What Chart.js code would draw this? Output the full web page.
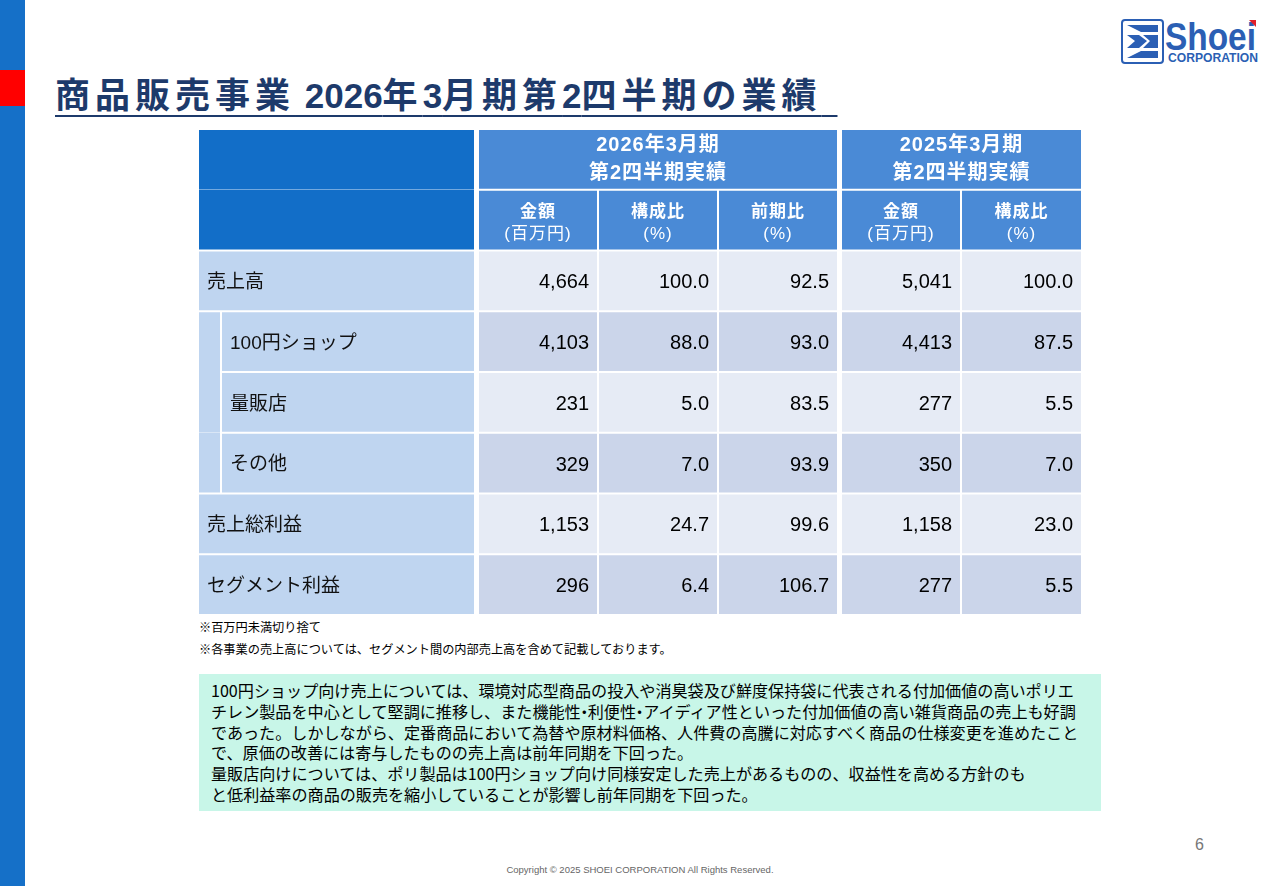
<!DOCTYPE html>
<html lang="ja">
<head>
<meta charset="utf-8">
<title>商品販売事業 2026年3月期第2四半期の業績</title>
<script src="https://cdn.jsdelivr.net/npm/chart.js@4.4.1/dist/chart.umd.min.js"></script>
<style>
  html, body { margin: 0; padding: 0; background: #fff; }
  body {
    width: 1280px; height: 886px; position: relative; overflow: hidden;
    font-family: "Noto Sans CJK JP", "Liberation Sans", sans-serif; color: #000;
  }
  .side-bar { position: absolute; left: 0; top: 0; width: 25px; height: 886px; background: #1570c8; }
  .side-mark { position: absolute; left: 0; top: 70px; width: 25px; height: 36px; background: #ff0000; }
  .logo { position: absolute; left: 1110px; top: 10px; }
  .title {
    position: absolute; left: 55px; top: 75px; white-space: nowrap;
    font-size: 35px; line-height: 35px; font-weight: bold; color: #1d3a6b;
    text-decoration: underline; text-decoration-thickness: 2px; text-underline-offset: 7px;
  }
  .title .j { letter-spacing: 5px; }
  .title .n { font-family: "Liberation Sans", sans-serif; letter-spacing: 0; }
  #table-wrap { position: absolute; left: 198px; top: 129px; width: 884px; height: 486px; }
  .note { position: absolute; left: 199px; font-size: 12.2px; line-height: 14px; white-space: nowrap; }
  .comment {
    position: absolute; left: 199px; top: 674px; width: 890px; height: 131px;
    padding: 6px 0 0 12px; background: #c8f6e8;
    font-size: 16.1px; line-height: 20.8px; white-space: nowrap; color: #000;
  }
  .comment .nk { margin: 0 -4.5px; }
  .page-no { position: absolute; left: 1195px; top: 836px; font-family: "Liberation Sans", sans-serif; font-size: 16px; color: #777; }
  .copyright {
    position: absolute; left: 0; width: 1280px; top: 864px; text-align: center;
    font-family: "Liberation Sans", sans-serif; font-size: 9.5px; color: #666;
  }
</style>
</head>
<body>
<div class="side-bar"></div>
<div class="side-mark"></div>

<svg class="logo" width="160" height="60" viewBox="0 0 160 60">
  <rect x="12" y="10" width="41" height="43" rx="3" fill="#fff" stroke="#2b5fb4" stroke-width="2"/>
  <polygon points="17,15 48,15 48,22 31,22" fill="#2b5fb4"/>
  <polygon points="17,25 29,25 37,31 29,38 17,38 25,31" fill="#2b5fb4"/>
  <polygon points="33,25 48,25 48,38 33,38 40,31" fill="#2b5fb4"/>
  <polygon points="31,41 48,41 48,48 17,48" fill="#2b5fb4"/>
  <text x="55" y="40" font-family="Liberation Sans, sans-serif" font-weight="bold" font-size="38" fill="#2b5fb4" textLength="91" lengthAdjust="spacingAndGlyphs">Shoei</text>
  <text x="58" y="52" font-family="Liberation Sans, sans-serif" font-weight="bold" font-size="12.5" fill="#2b5fb4" textLength="90" lengthAdjust="spacingAndGlyphs">CORPORATION</text>
  <polygon points="139,10 146,10 146,17" fill="#e0202a"/>
</svg>

<div class="title"><span class="j">商品販売事業</span><span class="n"> 2026</span><span class="j">年</span><span class="n">3</span><span class="j">月期第</span><span class="n">2</span><span class="j">四半期の業績</span>&nbsp;&nbsp;</div>

<div id="table-wrap"><canvas id="results-table"></canvas></div>

<div class="note" style="top:620px;">※百万円未満切り捨て</div>
<div class="note" style="top:642px;">※各事業の売上高については、セグメント間の内部売上高を含めて記載しております。</div>

<div class="comment">100円ショップ向け売上については、環境対応型商品の投入や消臭袋及び鮮度保持袋に代表される付加価値の高いポリエ<br>チレン製品を中心として堅調に推移し、また機能性<span class="nk">・</span>利便性<span class="nk">・</span>アイディア性といった付加価値の高い雑貨商品の売上も好調<br>であった。しかしながら、定番商品において為替や原材料価格、人件費の高騰に対応すべく商品の仕様変更を進めたこと<br>で、原価の改善には寄与したものの売上高は前年同期を下回った。<br>量販店向けについては、ポリ製品は100円ショップ向け同様安定した売上があるものの、収益性を高める方針のも<br>と低利益率の商品の販売を縮小していることが影響し前年同期を下回った。</div>

<div class="page-no">6</div>
<div class="copyright">Copyright © 2025 SHOEI CORPORATION All Rights Reserved.</div>

<script>
// table values
const rowLabels = ["売上高", "100円ショップ", "量販店", "その他", "売上総利益", "セグメント利益"];
const subRows = [false, true, true, true, false, false];
const amount2026 = [4664, 4103, 231, 329, 1153, 296];
const ratio2026 = [100.0, 88.0, 5.0, 7.0, 24.7, 6.4];
const yoy2026 = [92.5, 93.0, 83.5, 93.9, 99.6, 106.7];
const amount2025 = [5041, 4413, 277, 350, 1158, 277];
const ratio2025 = [100.0, 87.5, 5.5, 7.0, 23.0, 5.5];
const periodHeaders = ["2026年3月期\n第2四半期実績", "2025年3月期\n第2四半期実績"];
const columnHeaders = ["金額\n(百万円)", "構成比\n(%)", "前期比\n(%)", "金額\n(百万円)", "構成比\n(%)"];
const headerRows = ["期間", "項目"];

// layout (canvas px)
const tableWidth = 884;
const labelEdge = [0, 277];
const stripEdge = [0, 23];
const subLabelEdge = [23, 277];
const colEdges = [[280, 400], [400, 520], [520, 640], [643, 763], [763, 884]];
const periodSpans = [[0, 2], [3, 4]];
const colKinds = ["amount", "ratio", "ratio", "amount", "ratio"];

const headDark = "#126ec8";
const headBlue = "#4a8ad6";
const labelBlue = "#bfd5f0";
const rowLight = "#e6ebf5";
const rowDark = "#cbd5ea";

const valueColumns = [amount2026, ratio2026, yoy2026, amount2025, ratio2025];
const allRows = headerRows.concat(rowLabels);

function fmt(kind, v) {
  return kind === "amount" ? v.toLocaleString("en-US") : v.toFixed(1);
}

const fullBorder = { top: 1, bottom: 1, left: 1, right: 1 };

// left label column
const labelDataset = {
  label: "labels",
  data: allRows.map((r, i) => (i < 2 ? labelEdge : subRows[i - 2] ? subLabelEdge : labelEdge)),
  cellTexts: allRows.map((r, i) => (i < 2 ? "" : rowLabels[i - 2])),
  cellAlign: "left",
  backgroundColor: (c) => (c.dataIndex < 2 ? headDark : labelBlue),
  borderWidth: (c) => {
    if (c.dataIndex === 0) return { top: 1, bottom: 0, left: 1, right: 1 };
    if (c.dataIndex === 1) return { top: 0, bottom: 1, left: 1, right: 1 };
    return fullBorder;
  }
};

// narrow strip in front of the sub rows
const subIdx = subRows.map((s, i) => (s ? i + 2 : -1)).filter((i) => i >= 0);
const stripDataset = {
  label: "strip",
  data: allRows.map((r, i) => (subIdx.includes(i) ? stripEdge : null)),
  cellTexts: [],
  backgroundColor: labelBlue,
  borderWidth: (c) => {
    const first = c.dataIndex === subIdx[0];
    const last = c.dataIndex === subIdx[subIdx.length - 1];
    return { top: first ? 1 : 0, bottom: last ? 1 : 0, left: 1, right: 1 };
  }
};

const valueDatasets = valueColumns.map((vals, c) => {
  const span = periodSpans.find((s) => s[0] === c);
  const spanIdx = periodSpans.indexOf(span);
  return {
    label: columnHeaders[c],
    data: allRows.map((r, i) => {
      if (i === 0) return span ? [colEdges[span[0]][0], colEdges[span[1]][1]] : null;
      return colEdges[c];
    }),
    cellTexts: allRows.map((r, i) => {
      if (i === 0) return span ? periodHeaders[spanIdx] : "";
      if (i === 1) return columnHeaders[c];
      return fmt(colKinds[c], vals[i - 2]);
    }),
    cellAlign: "right",
    backgroundColor: (ctx) => {
      const i = ctx.dataIndex;
      if (i < 2) return headBlue;
      return (i - 2) % 2 === 0 ? rowLight : rowDark;
    },
    borderWidth: fullBorder
  };
});

const cellTextPlugin = {
  id: "cellText",
  afterDatasetsDraw(chart) {
    const ctx = chart.ctx;
    ctx.save();
    ctx.textBaseline = "middle";
    chart.data.datasets.forEach((ds, di) => {
      const meta = chart.getDatasetMeta(di);
      meta.data.forEach((bar, row) => {
        const txt = ds.cellTexts[row];
        if (!txt || ds.data[row] == null) return;
        const p = bar.getProps(["x", "base", "y"], true);
        const left = Math.min(p.x, p.base);
        const right = Math.max(p.x, p.base);
        if (row < 2) {
          const lines = txt.split("\n");
          const offs = row === 0 ? [-14, 14] : [-8, 14];
          ctx.fillStyle = "#fff";
          ctx.textAlign = "center";
          lines.forEach((ln, k) => {
            if (row === 0) {
              ctx.font = 'bold 20px "Liberation Sans", "Noto Sans CJK JP", sans-serif';
            } else {
              ctx.font = (k === 0 ? "bold " : "") + '17px "Liberation Sans", "Noto Sans CJK JP", sans-serif';
            }
            ctx.letterSpacing = "1px";
            ctx.fillText(ln, (left + right) / 2, p.y + offs[k]);
          });
          ctx.letterSpacing = "0px";
        } else if (ds.cellAlign === "left") {
          ctx.fillStyle = "#111";
          ctx.textAlign = "left";
          ctx.font = '19px "Liberation Sans", "Noto Sans CJK JP", sans-serif';
          ctx.fillText(txt, left + 9, p.y + 2);
        } else {
          ctx.fillStyle = "#000";
          ctx.textAlign = "right";
          ctx.font = '20px "Liberation Sans", Arial, sans-serif';
          ctx.fillText(txt, right - 9, p.y + 2);
        }
      });
    });
    ctx.restore();
  }
};

new Chart(document.getElementById("results-table").getContext("2d"), {
  type: "bar",
  data: {
    labels: allRows,
    datasets: [labelDataset, stripDataset].concat(valueDatasets)
  },
  options: {
    indexAxis: "y",
    responsive: true,
    maintainAspectRatio: false,
    animation: false,
    layout: { padding: 0 },
    events: [],
    plugins: { legend: { display: false }, tooltip: { enabled: false } },
    datasets: {
      bar: {
        grouped: false,
        barPercentage: 1,
        categoryPercentage: 1,
        inflateAmount: 0,
        borderSkipped: false,
        borderColor: "#ffffff"
      }
    },
    scales: {
      x: { type: "linear", min: 0, max: tableWidth, display: false },
      y: { type: "category", offset: true, display: false }
    }
  },
  plugins: [cellTextPlugin]
});
</script>
</body>
</html>
